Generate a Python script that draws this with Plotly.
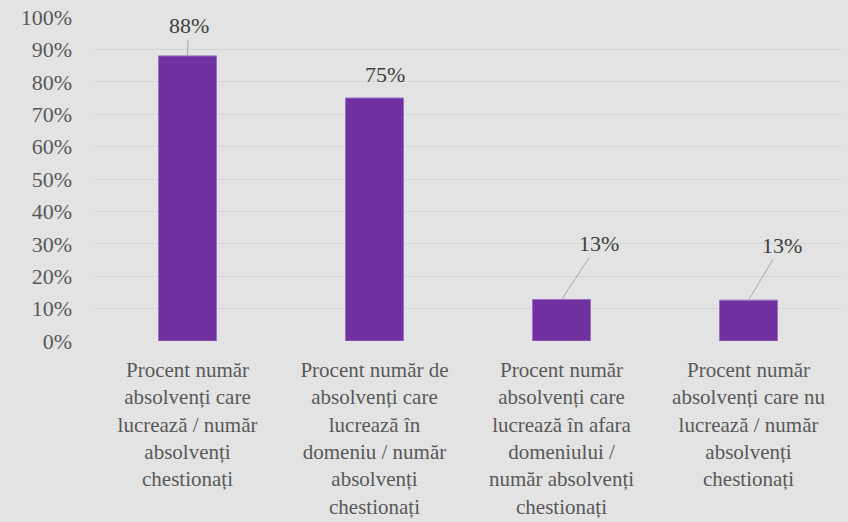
import plotly.graph_objects as go

categories = [
    "Procent număr<br>absolvenți care<br>lucrează / număr<br>absolvenți<br>chestionați",
    "Procent număr de<br>absolvenți care<br>lucrează în<br>domeniu / număr<br>absolvenți<br>chestionați",
    "Procent număr<br>absolvenți care<br>lucrează în afara<br>domeniului /<br>număr absolvenți<br>chestionați",
    "Procent număr<br>absolvenți care nu<br>lucrează / număr<br>absolvenți<br>chestionați",
]
values = [0.88, 0.75, 0.128, 0.126]
y_ticks = [0, 0.1, 0.2, 0.3, 0.4, 0.5, 0.6, 0.7, 0.8, 0.9, 1.0]

# label offsets (pixels) from the top of each bar, and whether a leader line is drawn
label_dx = [1, 10, 37, 33]
label_dy = [-30, -24, -56, -55]
leader = [True, False, True, True]

FONT = "Liberation Serif"
fig = go.Figure()
fig.add_trace(go.Bar(
    x=categories, y=values,
    marker=dict(color="#7030A0", line=dict(color="#9B6FC2", width=1)),
    width=0.31,
    hoverinfo="skip",
))

for c, v, dx, dy, ld in zip(categories, values, label_dx, label_dy, leader):
    txt = f"{int(v * 100 + 0.5)}%"
    if ld:
        fig.add_annotation(
            x=c, y=v, xref="x", yref="y", text=txt,
            showarrow=True, arrowhead=0, arrowwidth=1, arrowcolor="#A6A6A6",
            ax=dx, ay=dy, standoff=0, startstandoff=0,
            font=dict(family=FONT, size=22, color="#404040"),
        )
    else:
        fig.add_annotation(
            x=c, y=v, xref="x", yref="y", text=txt, showarrow=False,
            xshift=dx, yshift=-dy,
            font=dict(family=FONT, size=22, color="#404040"),
        )

fig.update_layout(
    width=848, height=522,
    margin=dict(l=94, r=6, t=17, b=181),
    paper_bgcolor="#E3E3E3", plot_bgcolor="#E3E3E3",
    showlegend=False,
    font=dict(family=FONT, size=22, color="#595959"),
)
fig.update_yaxes(
    range=[0, 1], tickvals=y_ticks, tickformat=".0%",
    showgrid=True, gridcolor="#D5D5D5", gridwidth=1,
    zeroline=False, showline=False, ticks="",
    ticklabelstandoff=21, automargin=False,
    tickfont=dict(family=FONT, size=22, color="#595959"),
)
fig.update_xaxes(
    showgrid=False, zeroline=False, showline=False, ticks="",
    tickangle=0, ticklabelstandoff=14, automargin=False,
    tickfont=dict(family=FONT, size=21, color="#595959"),
)
fig.write_html("out.html", config={"displayModeBar": False},
               post_script="document.body.style.margin='0';")
